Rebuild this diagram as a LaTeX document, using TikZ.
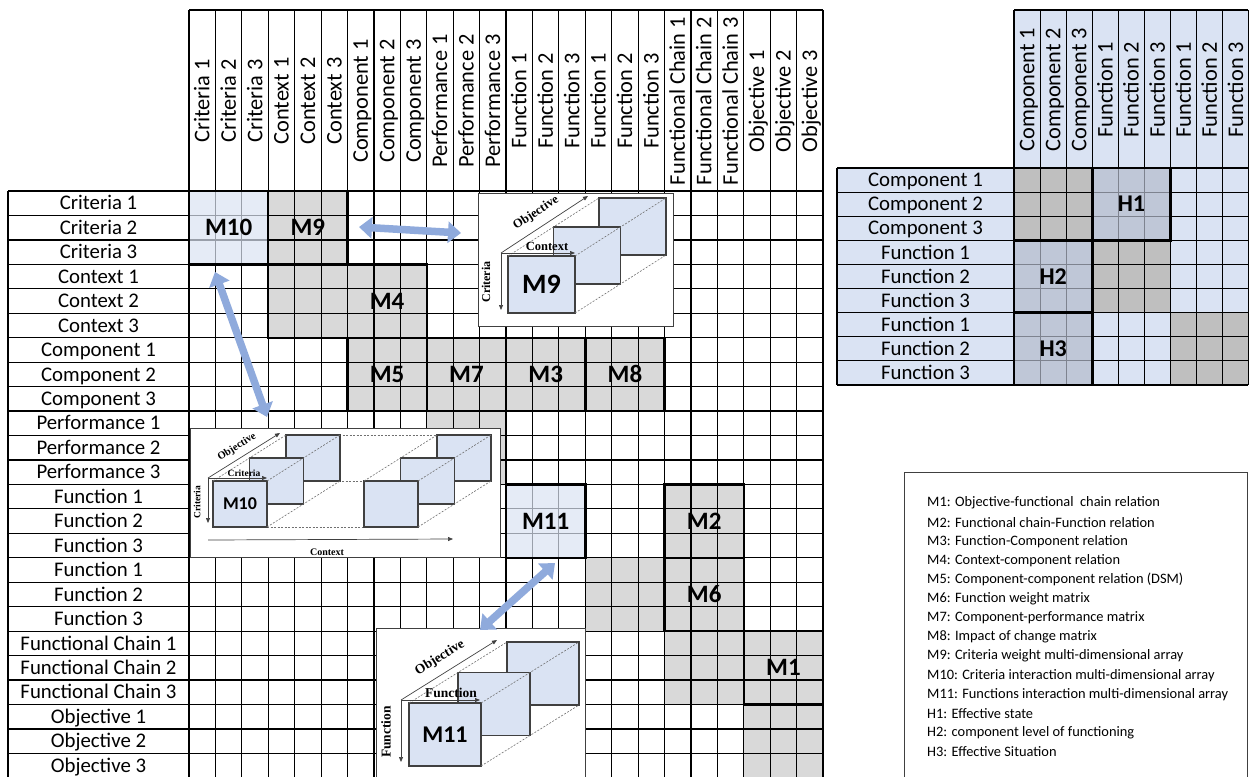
\documentclass[tikz,border=0pt]{standalone}
\usepackage{fontspec}
\setmainfont{Carlito}
\newfontfamily\axisfont{Liberation Serif}
\usetikzlibrary{arrows.meta}
\definecolor{cellgray}{HTML}{D9D9D9}
\definecolor{lblue}{HTML}{DAE3F3}
\definecolor{arrowblue}{HTML}{8FAADC}
\definecolor{rgray}{HTML}{BFBFBF}
\definecolor{hover}{HTML}{B4BCCC}
\definecolor{edgegray}{HTML}{404040}
\definecolor{dashgray}{HTML}{707070}
\newcommand\MainRect[4]{({189+#1*26.42},{191+#2*24.45}) rectangle ({189+(#3+1)*26.42},{191+(#4+1)*24.45})}
\newcommand\SideRect[4]{({1014+#1*26.1},{168+#2*24.1}) rectangle ({1014+(#3+1)*26.1},{168+(#4+1)*24.1})}
\newcommand\CubeStack[6]{%
  \foreach \k in {2,1,0}{
    \draw[slab] ({#1+\k*(#5)},{#2+\k*(#6)}) rectangle ++(#3,#4);
  }
  \draw[dashline] (#1,#2) -- ++({2*(#5)},{2*(#6)});
  \draw[dashline] ({#1+#3},#2) -- ++({2*(#5)},{2*(#6)});
  \draw[dashline] ({#1+#3},{#2+#4}) -- ++({2*(#5)},{2*(#6)});
}
\tikzset{
  gridline/.style={line width=1.2pt, draw=black},
  blockbox/.style={line width=2.4pt, draw=black},
  rowlab/.style={font=\fontsize{20.8}{22}\selectfont, inner sep=0pt, text height=13.4pt, text depth=0pt},
  collab/.style={font=\fontsize{22.4}{24}\selectfont, rotate=90, inner sep=0pt, text height=14.4pt, text depth=0pt},
  mlab/.style={font=\fontsize{25}{28}\selectfont\bfseries, inner sep=0pt, text height=16pt, text depth=0pt},
  hlab/.style={font=\fontsize{24}{26}\selectfont\bfseries, inner sep=0pt, text height=15.5pt, text depth=0pt},
  legtext/.style={font=\fontsize{14.4}{16}\selectfont, anchor=west, inner sep=0pt},
  insetbox/.style={fill=white, draw=edgegray, line width=0.8pt},
  slab/.style={fill=lblue, draw=edgegray, line width=1.2pt},
  dashline/.style={draw=dashgray, dash pattern=on 2pt off 1.5pt, line width=0.6pt},
  axisline/.style={draw=edgegray, line width=0.7pt, -{Triangle[length=5pt,width=4pt]}},
  axlab/.style={font=\axisfont\bfseries, inner sep=0pt},
  bigarrow/.style={draw=arrowblue, line width=7.5pt, {Triangle[length=13pt,width=21pt]}-{Triangle[length=13pt,width=21pt]}},
}
\begin{document}
\begin{tikzpicture}[x=1pt,y=-1pt]
\path[use as bounding box] (0,0) rectangle (1249,776);
\clip (0,0) rectangle (1249,776);
\fill[white] (0,0) rectangle (1249,776);

% ---------------- main matrix ----------------
\fill[cellgray] \MainRect{3}{0}{5}{2};
\fill[cellgray] \MainRect{3}{3}{8}{5};
\fill[cellgray] \MainRect{6}{6}{17}{8};
\fill[cellgray] \MainRect{9}{9}{11}{11};
\fill[cellgray] \MainRect{15}{15}{17}{17};
\fill[cellgray] \MainRect{18}{12}{20}{17};
\fill[cellgray] \MainRect{18}{18}{23}{20};
\fill[cellgray] \MainRect{21}{21}{23}{23};

\foreach \i in {0,...,24} \draw[gridline] ({189+\i*26.42},10) -- ({189+\i*26.42},780);
\foreach \j in {0,...,24} \draw[gridline] (8,{191+\j*24.45}) -- (823.08,{191+\j*24.45});
\draw[gridline] (189,10) -- (823.08,10);
\draw[gridline] (8,191) -- (8,780);

\fill[lblue, opacity=0.7] \MainRect{0}{0}{2}{2};
\fill[lblue, opacity=0.7] \MainRect{12}{12}{14}{14};

\draw[blockbox] \MainRect{0}{0}{2}{2};
\draw[blockbox] \MainRect{3}{0}{5}{2};
\draw[blockbox] \MainRect{3}{3}{8}{5};
\draw[blockbox] \MainRect{6}{6}{8}{8};
\draw[blockbox] \MainRect{9}{6}{11}{8};
\draw[blockbox] \MainRect{12}{6}{14}{8};
\draw[blockbox] \MainRect{15}{6}{17}{8};
\draw[blockbox] \MainRect{12}{12}{14}{14};
\draw[blockbox] \MainRect{18}{12}{20}{14};
\draw[blockbox] \MainRect{18}{15}{20}{17};
\draw[blockbox] \MainRect{21}{18}{23}{20};

\foreach \lab [count=\i from 0] in {Criteria 1,Criteria 2,Criteria 3,Context 1,Context 2,Context 3,Component 1,Component 2,Component 3,Performance 1,Performance 2,Performance 3,Function 1,Function 2,Function 3,Function 1,Function 2,Function 3,Functional Chain 1,Functional Chain 2,Functional Chain 3,Objective 1,Objective 2,Objective 3}{
  \node[rowlab] (r\i) at (98.5,{191+(\i+0.5)*24.45}) {\lab};
  \node[collab] (c\i) at ({189+(\i+0.5)*26.42},101) {\lab};
}

\node[mlab] (m10) at ({189+1.5*26.42},{191+1.5*24.45}) {M10};
\node[mlab] (m9) at ({189+4.5*26.42},{191+1.5*24.45}) {M9};
\node[mlab] (m4) at ({189+7.5*26.42},{191+4.5*24.45}) {M4};
\node[mlab] (m5) at ({189+7.5*26.42},{191+7.5*24.45}) {M5};
\node[mlab] (m7) at ({189+10.5*26.42},{191+7.5*24.45}) {M7};
\node[mlab] (m3) at ({189+13.5*26.42},{191+7.5*24.45}) {M3};
\node[mlab] (m8) at ({189+16.5*26.42},{191+7.5*24.45}) {M8};
\node[mlab] (m11) at ({189+13.5*26.42},{191+13.5*24.45}) {M11};
\node[mlab] (m2) at ({189+19.5*26.42},{191+13.5*24.45}) {M2};
\node[mlab] (m6) at ({189+19.5*26.42},{191+16.5*24.45}) {M6};
\node[mlab] (m1) at ({189+22.5*26.42},{191+19.5*24.45}) {M1};

% ---------------- inset M9 ----------------
\draw[insetbox] (478,193) rectangle (673,326);
\CubeStack{508}{256}{67}{57}{45.5}{-29}
\coordinate (o9) at (501,253);
\draw[axisline] (o9) -- (588,196);
\draw[axisline] (o9) -- (501,310);
\draw[axisline] (o9) -- (575,253);
\node[axlab, font=\axisfont\bfseries\fontsize{12.5}{14}\selectfont, rotate=33] (ax9o) at (536,213) {Objective};
\node[axlab, font=\axisfont\bfseries\fontsize{12.5}{14}\selectfont] (ax9c) at (547,246) {Context};
\node[axlab, font=\axisfont\bfseries\fontsize{12}{14}\selectfont, rotate=90] (ax9r) at (486,282) {Criteria};
\node[font=\fontsize{28}{30}\selectfont\bfseries, inner sep=0pt, text height=18pt, text depth=0pt] (i9) at (541.5,284.5) {M9};

% ---------------- inset M10 ----------------
\draw[insetbox] (190,428) rectangle (500,557);
\draw[dashline] (339,435) -- (437,435);
\draw[dashline] (303.5,481) -- (364,481);
\draw[dashline] (267,527) -- (364,527);
\CubeStack{213}{481}{54}{46}{36.5}{-23}
\CubeStack{364}{481}{54}{46}{36.5}{-23}
\coordinate (o10) at (208,478);
\draw[axisline] (o10) -- (280,433);
\draw[axisline] (o10) -- (208,523);
\draw[axisline] (o10) -- (267,478);
\coordinate (ctx0) at (208,540);
\coordinate (ctx1) at (453,539);
\draw[axisline] (ctx0) -- (ctx1);
\node[axlab, font=\axisfont\bfseries\fontsize{10.5}{12}\selectfont, rotate=32] (ax10o) at (237,447) {Objective};
\node[axlab, font=\axisfont\bfseries\fontsize{9.5}{11}\selectfont] (ax10c) at (244,473) {Criteria};
\node[axlab, font=\axisfont\bfseries\fontsize{9.5}{11}\selectfont, rotate=90] (ax10r) at (197,502) {Criteria};
\node[axlab, font=\axisfont\bfseries\fontsize{10}{12}\selectfont] (ax10x) at (327,552) {Context};
\node[font=\fontsize{18}{20}\selectfont\bfseries, inner sep=0pt, text height=11.6pt, text depth=0pt] (i10) at (240,504) {M10};

% ---------------- inset M11 ----------------
\draw[insetbox] (376,628) rectangle (585,800);
\CubeStack{409}{703}{72}{63}{49}{-30.5}
\coordinate (o11) at (401,700);
\draw[axisline] (o11) -- (497,640);
\draw[axisline] (o11) -- (401,762);
\draw[axisline] (o11) -- (480,700);
\node[axlab, font=\axisfont\bfseries\fontsize{13.5}{15}\selectfont, rotate=32] (ax11o) at (440,658) {Objective};
\node[axlab, font=\axisfont\bfseries\fontsize{13.5}{15}\selectfont] (ax11f) at (451,693) {Function};
\node[axlab, font=\axisfont\bfseries\fontsize{13.5}{15}\selectfont, rotate=90] (ax11r) at (386,732) {Function};
\node[font=\fontsize{24}{26}\selectfont\bfseries, inner sep=0pt, text height=15.5pt, text depth=0pt] (i11) at (445,734.5) {M11};

% ---------------- blue arrows ----------------
\coordinate (a1s) at (359,227);
\coordinate (a1e) at (461,233);
\coordinate (a2s) at (215,272);
\coordinate (a2e) at (267,417);
\coordinate (a3s) at (555,563);
\coordinate (a3e) at (480,630);
\draw[bigarrow] (a1s) -- (a1e);
\draw[bigarrow] (a2s) -- (a2e);
\draw[bigarrow] (a3s) -- (a3e);

% ---------------- right matrix ----------------
\fill[lblue] (1014,10) rectangle (1249,168);
\fill[lblue] (837,168) rectangle (1249,384.9);
\fill[rgray] \SideRect{0}{0}{2}{2};
\fill[rgray] \SideRect{3}{3}{5}{5};
\fill[rgray] \SideRect{6}{6}{8}{8};
\foreach \i in {0,...,9} \draw[gridline] ({min(1014+\i*26.1,1248.4)},10) -- ({min(1014+\i*26.1,1248.4)},384.9);
\foreach \j in {0,...,9} \draw[gridline] (837,{168+\j*24.1}) -- (1248.4,{168+\j*24.1});
\draw[gridline] (1014,10) -- (1248.4,10);
\draw[gridline] (837,168) -- (837,384.9);
\fill[hover, opacity=0.7] \SideRect{3}{0}{5}{2};
\fill[hover, opacity=0.7] \SideRect{0}{3}{2}{5};
\fill[hover, opacity=0.7] \SideRect{0}{6}{2}{8};
\draw[blockbox] \SideRect{3}{0}{5}{2};
\draw[blockbox] \SideRect{0}{3}{2}{5};
\draw[blockbox] \SideRect{0}{6}{2}{8};
\foreach \lab [count=\i from 0] in {Component 1,Component 2,Component 3,Function 1,Function 2,Function 3,Function 1,Function 2,Function 3}{
  \node[rowlab] (rr\i) at (925.5,{168+(\i+0.5)*24.1}) {\lab};
  \node[collab] (rc\i) at ({1014+(\i+0.5)*26.1},89.5) {\lab};
}
\node[hlab] (h1) at ({1014+4.5*26.1},{168+1.5*24.1}) {H1};
\node[hlab] (h2) at ({1014+1.5*26.1},{168+4.5*24.1}) {H2};
\node[hlab] (h3) at ({1014+1.5*26.1},{168+7.5*24.1}) {H3};

% ---------------- legend ----------------
\draw[draw=edgegray, line width=1pt] (904,472) rectangle (1247,800);
\foreach \t [count=\i from 0] in {M1: Objective-functional~ chain relation,M2: Functional chain-Function relation,M3: Function-Component relation,M4: Context-component relation,M5: Component-component relation (DSM),M6: Function weight matrix,M7: Component-performance matrix,M8: Impact of change matrix,M9: Criteria weight multi-dimensional array,M10: Criteria interaction multi-dimensional array,M11: Functions interaction multi-dimensional array,H1: Effective state,H2: component level of functioning,H3: Effective Situation}{
  \node[legtext] (leg\i) at (927,{503+\i*19.15}) {\t};
}
\end{tikzpicture}
\end{document}
